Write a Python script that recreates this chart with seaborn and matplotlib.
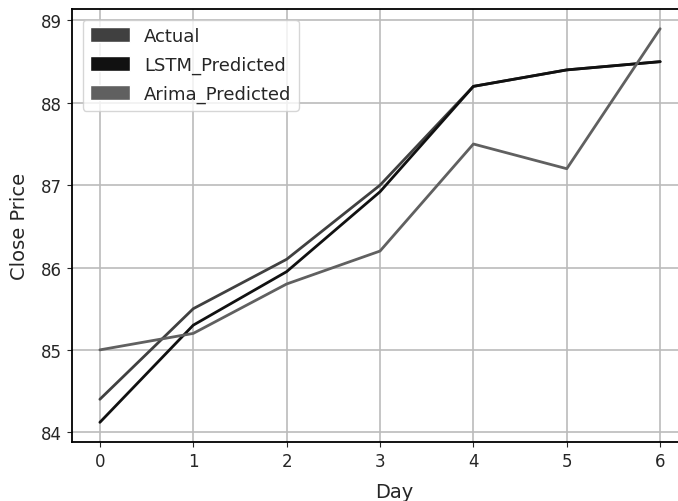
import seaborn as sns
import matplotlib.pyplot as plt
import pandas as pd
from matplotlib.patches import Patch

days = [0, 1, 2, 3, 4, 5, 6]
actual = [84.4, 85.5, 86.1, 87.0, 88.2, 88.4, 88.5]
lstm_pred = [84.12, 85.3, 85.95, 86.92, 88.2, 88.4, 88.5]
arima_pred = [85.0, 85.2, 85.8, 86.2, 87.5, 87.2, 88.9]

series_names = ['Actual', 'LSTM_Predicted', 'Arima_Predicted']
colors = ['#404040', '#111111', '#606060']

df = pd.DataFrame({
    'Day': days * 3,
    'Close Price': actual + lstm_pred + arima_pred,
    'Series': [s for s in series_names for _ in days],
})

sns.set_style('ticks')
plt.rcParams['font.family'] = ['DejaVu Sans']

fig = plt.figure(figsize=(6.78, 5.02), dpi=100)
# right edge of the axes runs past the image, like the cropped original
ax = fig.add_axes([0.106, 0.1175, 0.95, 0.8625])
sns.lineplot(data=df, x='Day', y='Close Price', hue='Series',
             palette=dict(zip(series_names, colors)), linewidth=2, ax=ax, legend=False)
ax.set_xlim(-0.3, 6.3 * 0.95 / 0.909 + 0.3 * (0.95 / 0.909 - 1))
ax.grid(True, color='#bbbbbb', linewidth=1.2)
ax.set_axisbelow(True)
ax.set_xticks(days)
ax.set_yticks([84, 85, 86, 87, 88, 89])
ax.tick_params(labelsize=12)
ax.set_xlabel('Day', fontsize=14, labelpad=9)
ax.set_ylabel('Close Price', fontsize=14, labelpad=9)
for s in ax.spines.values():
    s.set_color('black')
    s.set_linewidth(1.3)
ax.spines['right'].set_visible(False)

handles = [Patch(facecolor=c, label=n) for c, n in zip(colors, series_names)]
ax.legend(handles=handles, loc='upper left', fontsize=13, framealpha=0.8,
          handlelength=2.2, handleheight=0.9, labelspacing=0.6, borderaxespad=0.6)

fig.savefig('out.png', dpi=100)
